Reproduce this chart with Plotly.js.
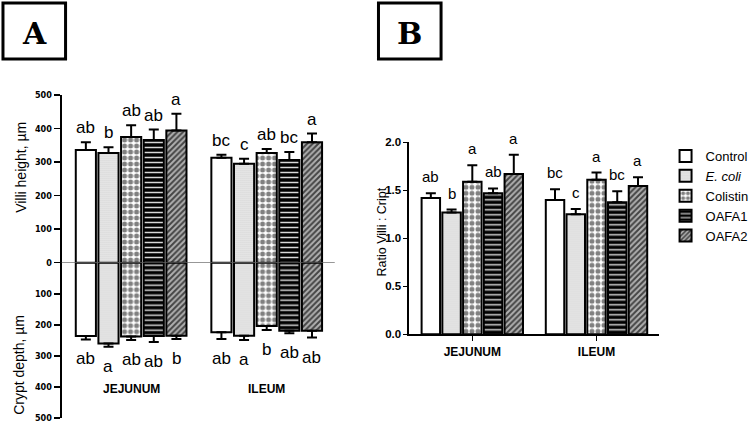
<!DOCTYPE html>
<html><head><meta charset="utf-8">
<script src="https://cdn.plot.ly/plotly-3.0.1.min.js"></script>
<style>body{margin:0;background:#fff}#chart{width:754px;height:424px}</style>
</head><body><div id="chart"></div>
<script>
const groups = ['JEJUNUM', 'ILEUM'];
const treatments = ['Control', '<i>E. coli</i>', 'Colistin', 'OAFA1', 'OAFA2'];
// Panel A: villi height (µm), [jejunum, ileum] per treatment
const villi = [[336, 313], [327, 295], [375, 327], [366, 306], [394, 359]];
const villiSem = [[23, 9], [17, 15], [35, 12], [31, 24], [50, 26]];
const villiLetters = [['ab', 'bc'], ['b', 'c'], ['ab', 'ab'], ['ab', 'bc'], ['a', 'a']];
// Panel A: crypt depth (µm)
const crypt = [[236, 224], [260, 235], [238, 204], [236, 219], [235, 219]];
const cryptSem = [[11, 22], [11, 14], [11, 13], [19, 8], [11, 22]];
const cryptLetters = [['ab', 'ab'], ['a', 'a'], ['ab', 'b'], ['ab', 'ab'], ['b', 'ab']];
// Panel B: ratio villi : crypt
const ratio = [[1.42, 1.40], [1.27, 1.25], [1.59, 1.61], [1.47, 1.375], [1.67, 1.545]];
const ratioSem = [[0.05, 0.11], [0.03, 0.055], [0.17, 0.075], [0.05, 0.115], [0.20, 0.09]];
const ratioLetters = [['ab', 'bc'], ['b', 'c'], ['a', 'a'], ['ab', 'bc'], ['a', 'a']];
const villiTicks = [0, 100, 200, 300, 400, 500];
const cryptTicks = [100, 200, 300, 400, 500];
const ratioTicks = [0, 0.5, 1.0, 1.5, 2.0];

const styles = [
  {color: '#ffffff', pattern: {shape: ''}},
  {color: '#e6e6e6', pattern: {shape: '.', size: 2, solidity: 0.3, fgcolor: '#b0b0b0', bgcolor: '#f0f0f0'}},
  {color: '#ffffff', pattern: {shape: '.', size: 6, solidity: 0.55, fgcolor: '#808080', bgcolor: '#ffffff'}},
  {color: '#000000', pattern: {shape: '-', size: 5, solidity: 0.3, fgcolor: '#d8d8d8', bgcolor: '#000000'}},
  {color: '#999999', pattern: {shape: '/', size: 4, solidity: 0.5, fgcolor: '#444444', bgcolor: '#b0b0b0'}}
];
const BARGAP = 0.165, GROUPGAP = 0.11, N = treatments.length;
const xpos = [0, 1];
function barX(g, i) { const w = (1 - BARGAP); return xpos[g] - w / 2 + (i + 0.5) * w / N; }

const traces = [];
const annotations = [];
const errStyle = (arr) => ({type: 'data', symmetric: false, array: arr, arrayminus: arr.map(() => 0),
  color: '#000', thickness: 2, width: 5});
const letterFont = (s) => ({family: 'Liberation Sans, Arial', size: s, color: '#000'});
treatments.forEach((name, i) => {
  const mk = {color: styles[i].color, pattern: styles[i].pattern, line: {color: '#000', width: 2}};
  traces.push({type: 'bar', x: xpos, y: villi[i], name, xaxis: 'x', yaxis: 'y', marker: mk,
    error_y: errStyle(villiSem[i]), showlegend: false, hoverinfo: 'skip'});
  traces.push({type: 'bar', x: xpos, y: crypt[i], name, xaxis: 'x', yaxis: 'y2', marker: mk,
    error_y: errStyle(cryptSem[i]), showlegend: false, hoverinfo: 'skip'});
  traces.push({type: 'bar', x: xpos, y: ratio[i], name, xaxis: 'x2', yaxis: 'y3', marker: mk,
    error_y: errStyle(ratioSem[i]), showlegend: true});
  for (let g = 0; g < 2; g++) {
    annotations.push({xref: 'x', yref: 'y', x: barX(g, i), y: villi[i][g] + villiSem[i][g], text: villiLetters[i][g],
      showarrow: false, xanchor: 'center', yanchor: 'bottom', yshift: 3, font: letterFont(17)});
    annotations.push({xref: 'x', yref: 'y2', x: barX(g, i), y: crypt[i][g] + cryptSem[i][g], text: cryptLetters[i][g],
      showarrow: false, xanchor: 'center', yanchor: 'top', yshift: -8, font: letterFont(17)});
    annotations.push({xref: 'x2', yref: 'y3', x: barX(g, i), y: ratio[i][g] + ratioSem[i][g], text: ratioLetters[i][g],
      showarrow: false, xanchor: 'center', yanchor: 'bottom', yshift: 6, font: letterFont(15)});
  }
});
groups.forEach((gname, g) => {
  annotations.push({xref: 'x', yref: 'paper', x: xpos[g], y: 1 - 389 / 424, text: gname, showarrow: false,
    xanchor: 'center', yanchor: 'middle',
    font: {family: 'Liberation Sans, Arial', size: 12, color: '#000', weight: 'bold'}});
});
function paperText(px, py, text, font, angle) {
  annotations.push({xref: 'paper', yref: 'paper', x: px / 754, y: 1 - py / 424, text, showarrow: false,
    xanchor: 'center', yanchor: 'middle', textangle: angle || 0, font});
}
const titleFont = {family: 'Liberation Sans, Arial', size: 14, color: '#000'};
paperText(21, 167, 'Villi height, µm', titleFont, -90);
paperText(19, 365, 'Crypt depth, µm', titleFont, -90);
paperText(385, 232, 'Ratio Villi : Cript', {family: 'Liberation Sans, Arial', size: 12.5, color: '#000'}, -90);
const panelFont = {family: 'DejaVu Serif', size: 30, color: '#000', weight: 'bold'};
paperText(34.5, 33, 'A', panelFont);
paperText(412.5, 33, 'B', panelFont);

const shapes = [
  {type: 'rect', xref: 'paper', yref: 'paper', x0: 3 / 754, x1: 66 / 754, y0: 1 - 59 / 424, y1: 1 - 3 / 424, line: {color: '#000', width: 3}},
  {type: 'rect', xref: 'paper', yref: 'paper', x0: 381 / 754, x1: 444 / 754, y0: 1 - 59 / 424, y1: 1 - 3 / 424, line: {color: '#000', width: 3}},
  {type: 'line', xref: 'paper', yref: 'y', x0: 62 / 754, x1: 337 / 754, y0: 0, y1: 0, line: {color: '#555', width: 1}, layer: 'above'}
];

const tickFontA = {family: 'DejaVu Sans Condensed, DejaVu Sans', size: 9, color: '#000', weight: 'bold'};
const tickFontB = {family: 'Liberation Sans, Arial', size: 11.5, color: '#000', weight: 'bold'};
const layout = {
  width: 754, height: 424, margin: {l: 0, r: 0, t: 0, b: 0},
  paper_bgcolor: '#fff', plot_bgcolor: 'rgba(0,0,0,0)',
  barmode: 'group', bargap: BARGAP, bargroupgap: GROUPGAP,
  showlegend: true,
  legend: {x: 670 / 754, y: 1 - 141 / 424, xanchor: 'left', yanchor: 'top', font: {family: 'Liberation Sans, Arial', size: 13, color: '#000'},
    bgcolor: 'rgba(0,0,0,0)', traceorder: 'normal', itemwidth: 30, tracegroupgap: 0},
  xaxis: {domain: [62 / 754, 337 / 754], range: [-0.513, 1.502], anchor: 'y2', visible: false, fixedrange: true},
  yaxis: {domain: [1 - 262.7 / 424, 1 - 95 / 424], range: [0, 500], anchor: 'x', tickvals: villiTicks,
    showline: true, linecolor: '#000', linewidth: 2, ticks: 'outside', ticklen: 6, tickwidth: 1.5, tickcolor: '#000',
    showgrid: false, zeroline: false, tickfont: tickFontA, fixedrange: true},
  yaxis2: {domain: [1 - 418 / 424, 1 - 262.7 / 424], range: [500, 0], anchor: 'x', tickvals: cryptTicks,
    showline: true, linecolor: '#000', linewidth: 2, ticks: 'outside', ticklen: 6, tickwidth: 1.5, tickcolor: '#000',
    showgrid: false, zeroline: false, tickfont: tickFontA, fixedrange: true},
  xaxis2: {domain: [411.7 / 754, 663 / 754], range: [-0.51, 1.5], anchor: 'y3', tickvals: xpos, ticktext: groups,
    showline: true, linecolor: '#000', linewidth: 2, ticks: 'outside', ticklen: 5, tickwidth: 1.5, tickcolor: '#000',
    showgrid: false, zeroline: false, tickfont: {family: 'Liberation Sans, Arial', size: 12, color: '#000', weight: 'bold'}, fixedrange: true},
  yaxis3: {domain: [1 - 334.3 / 424, 1 - 142.3 / 424], range: [0, 2], anchor: 'x2', tickvals: ratioTicks, tickformat: '.1f',
    showline: true, linecolor: '#000', linewidth: 1.5, ticks: 'outside', ticklen: 4, tickwidth: 1.5, tickcolor: '#000',
    showgrid: false, zeroline: false, tickfont: tickFontB, fixedrange: true},
  annotations, shapes
};
Plotly.newPlot('chart', traces, layout, {displayModeBar: false, staticPlot: true});
</script></body></html>
